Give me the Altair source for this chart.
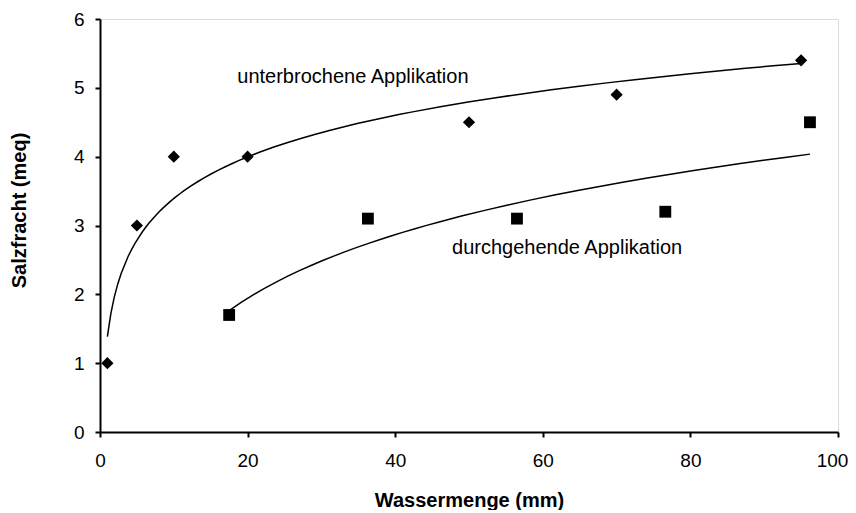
import altair as alt
import pandas as pd

# Data
unter_x = [1, 5, 10, 20, 50, 70, 95]
unter_y = [1.0, 3.0, 4.0, 4.0, 4.5, 4.9, 5.4]
durch_x = [17.5, 36.3, 56.5, 76.6, 96.2]
durch_y = [1.7, 3.1, 3.1, 3.2, 4.5]

series_names = ["unterbrochene Applikation", "durchgehende Applikation"]
label_x = [18.6, 47.7]
label_y = [5.16, 2.67]

x_ticks = [0, 20, 40, 60, 80, 100]
y_ticks = [0, 1, 2, 3, 4, 5, 6]

df = pd.DataFrame({
    "x": unter_x + durch_x,
    "y": unter_y + durch_y,
    "series": [series_names[0]] * len(unter_x) + [series_names[1]] * len(durch_x),
})
labels = pd.DataFrame({"x": label_x, "y": label_y, "text": series_names})

FONT = "Liberation Sans"

xs = alt.Scale(domain=[0, 100], nice=False)
ys = alt.Scale(domain=[0, 6], nice=False)

x_axis = alt.Axis(
    title="Wassermenge (mm)", values=x_ticks, grid=False, format="d",
    labelFlush=False, labelOverlap=False,
    labelOffset={"condition": {"test": "datum.value == 100", "value": -6}, "value": 0},
    titleFontSize=20, titleFontWeight="bold", titleFont=FONT,
    titleY=68, titleBaseline="middle",
    labelFontSize=19, labelFont=FONT, labelPadding=14,
    tickSize=5, tickWidth=2, tickColor="black",
    domainColor="black", domainWidth=2, labelColor="black", titleColor="black",
)
y_axis = alt.Axis(
    title="Salzfracht (meq)", values=y_ticks, grid=False, format="d",
    labelFlush=False, labelOverlap=False,
    titleFontSize=20, titleFontWeight="bold", titleFont=FONT,
    titleAngle=270, titleX=-81, titleY=191, titleAlign="center", titleBaseline="middle",
    labelFontSize=19, labelFont=FONT, labelPadding=11,
    tickSize=5, tickWidth=2, tickColor="black",
    domainColor="black", domainWidth=2, labelColor="black", titleColor="black",
)

base = alt.Chart(df)

points = base.mark_point(filled=True, color="black", opacity=1).encode(
    x=alt.X("x:Q", scale=xs, axis=x_axis),
    y=alt.Y("y:Q", scale=ys, axis=y_axis),
    shape=alt.Shape("series:N", scale=alt.Scale(domain=series_names, range=["diamond", "square"]), legend=None),
    size=alt.Size("series:N", scale=alt.Scale(domain=series_names, range=[150, 140]), legend=None),
)

trend = base.transform_regression("x", "y", method="log", groupby=["series"]).mark_line(
    color="black", strokeWidth=1.5
).encode(
    x=alt.X("x:Q", scale=xs),
    y=alt.Y("y:Q", scale=ys),
    detail="series:N",
)

text = alt.Chart(labels).mark_text(
    align="left", baseline="middle", font=FONT, fontSize=20, color="black"
).encode(
    x=alt.X("x:Q", scale=xs),
    y=alt.Y("y:Q", scale=ys),
    text="text:N",
)

chart = alt.layer(trend, points, text).properties(
    width=738, height=413,
    autosize=alt.AutoSizeParams(type="none"),
    padding={"left": 92, "top": 11, "right": 10, "bottom": 78},
).configure_view(stroke="black", strokeWidth=2).configure(background="white")

chart.save("out.html", embed_options={"renderer": "svg", "actions": False})
